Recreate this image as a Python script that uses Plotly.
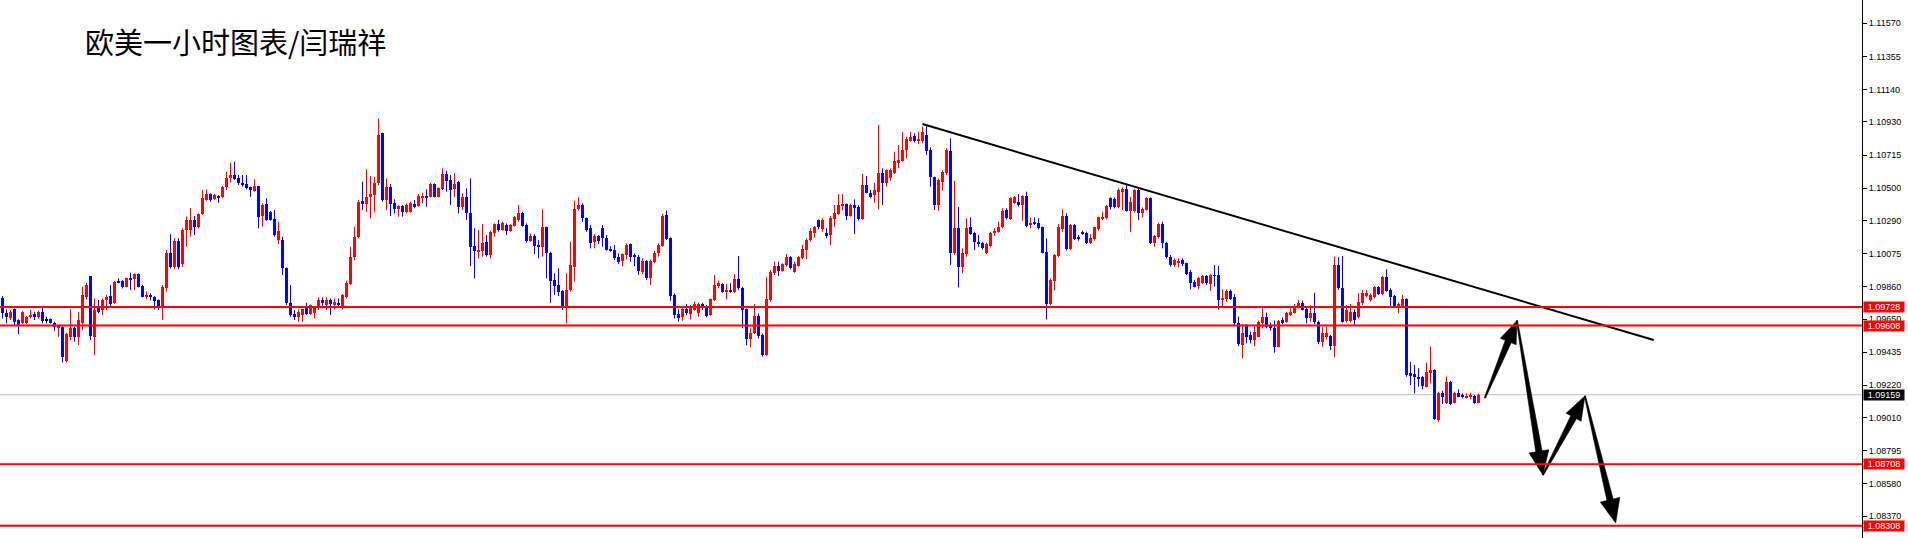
import math
import plotly.graph_objects as go

# ---------------- data ----------------
title_text = "欧美一小时图表/闫瑞祥"

open_ = [
 1.09784, 1.09691, 1.09654, 1.09713, 1.09644, 1.09622, 1.09622, 1.09661, 1.09680, 1.09661,
 1.09698, 1.09644, 1.09648, 1.09626, 1.09596, 1.09600, 1.09380, 1.09535, 1.09590, 1.09535,
 1.09622, 1.09795, 1.09929, 1.09535, 1.09719, 1.09709, 1.09773, 1.09799, 1.09752, 1.09899,
 1.09899, 1.09860, 1.09918, 1.09908, 1.09942, 1.09864, 1.09791, 1.09806, 1.09795, 1.09773,
 1.09730, 1.09849, 1.10076, 1.09990, 1.10159, 1.10007, 1.10228, 1.10228, 1.10293, 1.10250,
 1.10332, 1.10423, 1.10460, 1.10427, 1.10449, 1.10440, 1.10505, 1.10563, 1.10585, 1.10563,
 1.10535, 1.10527, 1.10505, 1.10483, 1.10514, 1.10319, 1.10395, 1.10347, 1.10297, 1.10163,
 1.10163, 1.09979, 1.09756, 1.09683, 1.09665,
 1.09676, 1.09719, 1.09683, 1.09691, 1.09730, 1.09773, 1.09741, 1.09773, 1.09741, 1.09756,
 1.09730, 1.09795, 1.09877, 1.10055, 1.10185, 1.10418, 1.10397, 1.10440, 1.10455, 1.10531,
 1.10856, 1.10423, 1.10510, 1.10401, 1.10362, 1.10384, 1.10347, 1.10347, 1.10397, 1.10384,
 1.10440, 1.10449, 1.10444, 1.10527, 1.10444, 1.10492, 1.10592, 1.10553, 1.10492, 1.10542,
 1.10379, 1.10440, 1.10336, 1.10124, 1.10087, 1.10094, 1.10152, 1.10066, 1.10211, 1.10267,
 1.10228, 1.10261, 1.10224, 1.10254, 1.10293, 1.10336, 1.10261, 1.10159, 1.10189, 1.10131,
 1.10115, 1.10250, 1.10076, 1.09903, 1.09871, 1.09834, 1.09730, 1.09838, 1.09990, 1.10362,
 1.10390, 1.10304, 1.10239, 1.10152,
 1.10189, 1.10239, 1.10174, 1.10102, 1.10098, 1.10051, 1.10029, 1.10066, 1.10137, 1.10059,
 1.10055, 1.09957, 1.10029, 1.09914, 1.10023, 1.10076, 1.10124, 1.10323, 1.10174, 1.09806,
 1.09683, 1.09661, 1.09713, 1.09683, 1.09709, 1.09691, 1.09748, 1.09730, 1.09676, 1.09773,
 1.09864, 1.09877, 1.09828, 1.09838, 1.09828, 1.09908, 1.09849, 1.09713, 1.09518, 1.09561,
 1.09670, 1.09546, 1.09416, 1.09773, 1.09951, 1.09994, 1.09964, 1.10001, 1.10055, 1.09957,
 1.09994, 1.10044, 1.10098, 1.10163, 1.10211, 1.10293, 1.10232, 1.10211, 1.10196, 1.10297,
 1.10332, 1.10384, 1.10397, 1.10319, 1.10390, 1.10375, 1.10297, 1.10520, 1.10470, 1.10455,
 1.10477, 1.10600, 1.10535,
 1.10563, 1.10596, 1.10665, 1.10678, 1.10747, 1.10808, 1.10838, 1.10808, 1.10808, 1.10845,
 1.10747, 1.10570, 1.10390, 1.10542, 1.10600, 1.10743, 1.10081, 1.10239, 1.09990, 1.10072,
 1.10245, 1.10211, 1.10152, 1.10141, 1.10081, 1.10124, 1.10206, 1.10217, 1.10245, 1.10358,
 1.10297, 1.10405, 1.10412, 1.10390, 1.10449, 1.10261, 1.10282, 1.10271, 1.10245, 1.10087,
 1.09748, 1.09899, 1.10059, 1.10232, 1.10319, 1.10102, 1.10261, 1.10180, 1.10217, 1.10211,
 1.10146, 1.10167, 1.10232, 1.10304, 1.10304, 1.10434, 1.10427, 1.10375, 1.10477, 1.10492,
 1.10354, 1.10354, 1.10488, 1.10336, 1.10358, 1.10434, 1.10146, 1.10180, 1.10267, 1.10146,
 1.10051, 1.10001, 1.10016, 1.10033,
 1.10012, 1.09958, 1.09893, 1.09865, 1.09886, 1.09930, 1.09878, 1.09936, 1.09936, 1.09774,
 1.09778, 1.09834, 1.09795, 1.09627, 1.09482, 1.09612, 1.09547, 1.09514, 1.09536, 1.09627,
 1.09661, 1.09605, 1.09590, 1.09471, 1.09644, 1.09633, 1.09676, 1.09692, 1.09726, 1.09752,
 1.09713, 1.09655, 1.09687, 1.09633, 1.09503, 1.09531, 1.09540, 1.09475, 1.10001, 1.09850,
 1.09640, 1.09640, 1.09698, 1.09666, 1.09752, 1.09806, 1.09774, 1.09795, 1.09856, 1.09813,
 1.09921, 1.09839, 1.09800, 1.09735, 1.09731, 1.09778, 1.09298, 1.09293, 1.09272, 1.09276,
 1.09211, 1.09298, 1.09319, 1.08995, 1.09168, 1.09107, 1.09244, 1.09107, 1.09172, 1.09157,
 1.09142, 1.09146, 1.09151, 1.09107,
]

high = [
 1.09799, 1.09713, 1.09709, 1.09719, 1.09648, 1.09702, 1.09670, 1.09709, 1.09698, 1.09704,
 1.09724, 1.09665, 1.09654, 1.09633, 1.09611, 1.09605, 1.09561, 1.09713, 1.09600, 1.09698,
 1.09860, 1.09886, 1.09929, 1.09784, 1.09773, 1.09784, 1.09806, 1.09871, 1.09897, 1.09914,
 1.09903, 1.09918, 1.09951, 1.09947, 1.09947, 1.09871, 1.09828, 1.09817, 1.09799, 1.09778,
 1.09871, 1.10098, 1.10202, 1.10174, 1.10174, 1.10239, 1.10315, 1.10369, 1.10319, 1.10336,
 1.10488, 1.10492, 1.10466, 1.10462, 1.10455, 1.10514, 1.10607, 1.10665, 1.10672, 1.10585,
 1.10585, 1.10585, 1.10510, 1.10557, 1.10514, 1.10401, 1.10434, 1.10351, 1.10358, 1.10282,
 1.10185, 1.09986, 1.09871, 1.09709, 1.09713,
 1.09713, 1.09756, 1.09745, 1.09735, 1.09791, 1.09791, 1.09791, 1.09784, 1.09784, 1.09784,
 1.09812, 1.09899, 1.10120, 1.10250, 1.10423, 1.10542, 1.10622, 1.10579, 1.10574, 1.10953,
 1.10860, 1.10563, 1.10527, 1.10427, 1.10390, 1.10390, 1.10401, 1.10412, 1.10423, 1.10462,
 1.10470, 1.10492, 1.10535, 1.10531, 1.10505, 1.10628, 1.10613, 1.10585, 1.10596, 1.10548,
 1.10466, 1.10498, 1.10563, 1.10239, 1.10228, 1.10267, 1.10196, 1.10224, 1.10271, 1.10293,
 1.10282, 1.10271, 1.10267, 1.10319, 1.10390, 1.10347, 1.10271, 1.10206, 1.10202, 1.10163,
 1.10362, 1.10250, 1.10087, 1.09947, 1.09979, 1.09838, 1.09947, 1.10152, 1.10418, 1.10440,
 1.10401, 1.10310, 1.10261, 1.10202,
 1.10196, 1.10261, 1.10196, 1.10124, 1.10131, 1.10076, 1.10076, 1.10141, 1.10141, 1.10076,
 1.10066, 1.10044, 1.10033, 1.10038, 1.10094, 1.10141, 1.10332, 1.10354, 1.10180, 1.09817,
 1.09713, 1.09719, 1.09748, 1.09741, 1.09763, 1.09756, 1.09756, 1.09741, 1.09784, 1.09936,
 1.09899, 1.09882, 1.09877, 1.09882, 1.09942, 1.10059, 1.09860, 1.09719, 1.09590, 1.09748,
 1.09687, 1.09557, 1.09921, 1.09968, 1.10023, 1.10023, 1.10012, 1.10072, 1.10059, 1.10023,
 1.10059, 1.10131, 1.10174, 1.10239, 1.10254, 1.10297, 1.10304, 1.10239, 1.10319, 1.10390,
 1.10462, 1.10462, 1.10401, 1.10397, 1.10427, 1.10390, 1.10592, 1.10579, 1.10488, 1.10535,
 1.10910, 1.10628, 1.10622,
 1.10628, 1.10736, 1.10780, 1.10866, 1.10834, 1.10866, 1.10856, 1.10866, 1.10899, 1.10910,
 1.10765, 1.10574, 1.10563, 1.10617, 1.10758, 1.10823, 1.10548, 1.10379, 1.10109, 1.10304,
 1.10310, 1.10217, 1.10196, 1.10152, 1.10146, 1.10217, 1.10239, 1.10282, 1.10369, 1.10369,
 1.10440, 1.10449, 1.10462, 1.10455, 1.10477, 1.10310, 1.10310, 1.10304, 1.10250, 1.10174,
 1.09914, 1.10072, 1.10267, 1.10362, 1.10336, 1.10267, 1.10267, 1.10196, 1.10224, 1.10217,
 1.10202, 1.10250, 1.10315, 1.10347, 1.10390, 1.10440, 1.10440, 1.10498, 1.10505, 1.10520,
 1.10444, 1.10492, 1.10505, 1.10375, 1.10440, 1.10440, 1.10196, 1.10276, 1.10282, 1.10152,
 1.10066, 1.10044, 1.10044, 1.10044,
 1.10016, 1.09969, 1.09904, 1.09925, 1.09936, 1.09936, 1.09943, 1.10001, 1.09995, 1.09843,
 1.09843, 1.09843, 1.09813, 1.09666, 1.09618, 1.09618, 1.09568, 1.09601, 1.09640, 1.09720,
 1.09692, 1.09627, 1.09640, 1.09644, 1.09661, 1.09698, 1.09720, 1.09748, 1.09774, 1.09770,
 1.09726, 1.09741, 1.09821, 1.09640, 1.09596, 1.09601, 1.09547, 1.10055, 1.10051, 1.10059,
 1.09741, 1.09748, 1.09713, 1.09817, 1.09839, 1.09839, 1.09817, 1.09865, 1.09865, 1.09930,
 1.09973, 1.09850, 1.09806, 1.09757, 1.09806, 1.09785, 1.09373, 1.09352, 1.09330, 1.09280,
 1.09367, 1.09471, 1.09324, 1.09179, 1.09185, 1.09276, 1.09250, 1.09179, 1.09194, 1.09168,
 1.09168, 1.09172, 1.09157, 1.09166,
]

low = [
 1.09654, 1.09622, 1.09644, 1.09611, 1.09553, 1.09618, 1.09618, 1.09654, 1.09644, 1.09654,
 1.09622, 1.09622, 1.09622, 1.09574, 1.09535, 1.09369, 1.09369, 1.09514, 1.09503, 1.09481,
 1.09579, 1.09778, 1.09514, 1.09416, 1.09687, 1.09676, 1.09709, 1.09730, 1.09748, 1.09882,
 1.09849, 1.09856, 1.09838, 1.09838, 1.09856, 1.09791, 1.09778, 1.09773, 1.09713, 1.09709,
 1.09644, 1.09828, 1.09979, 1.09973, 1.09973, 1.09990, 1.10120, 1.10185, 1.10196, 1.10239,
 1.10325, 1.10418, 1.10412, 1.10423, 1.10405, 1.10434, 1.10488, 1.10535, 1.10553, 1.10520,
 1.10510, 1.10492, 1.10444, 1.10477, 1.10239, 1.10250, 1.10289, 1.10289, 1.10185, 1.10137,
 1.09936, 1.09741, 1.09665, 1.09644, 1.09633,
 1.09633, 1.09676, 1.09678, 1.09654, 1.09709, 1.09719, 1.09709, 1.09676, 1.09713, 1.09730,
 1.09713, 1.09784, 1.09871, 1.10033, 1.10174, 1.10358, 1.10347, 1.10304, 1.10347, 1.10520,
 1.10412, 1.10358, 1.10319, 1.10336, 1.10315, 1.10315, 1.10336, 1.10341, 1.10369, 1.10379,
 1.10401, 1.10379, 1.10440, 1.10440, 1.10440, 1.10488, 1.10477, 1.10390, 1.10444, 1.10336,
 1.10358, 1.10293, 1.09994, 1.09914, 1.10044, 1.10055, 1.10055, 1.10044, 1.10185, 1.10217,
 1.10224, 1.10196, 1.10217, 1.10250, 1.10282, 1.10250, 1.10146, 1.10152, 1.10072, 1.10044,
 1.10055, 1.09914, 1.09756, 1.09806, 1.09799, 1.09709, 1.09622, 1.09828, 1.09893, 1.10354,
 1.10282, 1.10217, 1.10109, 1.10109,
 1.10137, 1.10120, 1.10094, 1.10087, 1.10033, 1.10007, 1.09994, 1.10038, 1.10023, 1.09994,
 1.09936, 1.09942, 1.09903, 1.09871, 1.10012, 1.10055, 1.10120, 1.10163, 1.09769, 1.09654,
 1.09633, 1.09639, 1.09676, 1.09648, 1.09704, 1.09665, 1.09709, 1.09661, 1.09670, 1.09769,
 1.09849, 1.09821, 1.09778, 1.09821, 1.09821, 1.09838, 1.09590, 1.09481, 1.09466, 1.09553,
 1.09525, 1.09406, 1.09410, 1.09763, 1.09936, 1.09929, 1.09957, 1.09990, 1.09973, 1.09951,
 1.09990, 1.10038, 1.10038, 1.10152, 1.10180, 1.10232, 1.10217, 1.10174, 1.10131, 1.10250,
 1.10325, 1.10358, 1.10293, 1.10315, 1.10202, 1.10289, 1.10293, 1.10466, 1.10434, 1.10405,
 1.10362, 1.10390, 1.10510,
 1.10548, 1.10592, 1.10628, 1.10672, 1.10693, 1.10801, 1.10795, 1.10786, 1.10791, 1.10715,
 1.10510, 1.10358, 1.10354, 1.10483, 1.10585, 1.10001, 1.10066, 1.09856, 1.09947, 1.10055,
 1.10196, 1.10098, 1.10120, 1.10102, 1.10072, 1.10115, 1.10189, 1.10211, 1.10239, 1.10297,
 1.10293, 1.10397, 1.10379, 1.10289, 1.10245, 1.10239, 1.10261, 1.10232, 1.10076, 1.09648,
 1.09741, 1.09838, 1.10051, 1.10217, 1.10094, 1.10098, 1.10163, 1.10159, 1.10196, 1.10137,
 1.10137, 1.10159, 1.10224, 1.10293, 1.10297, 1.10362, 1.10369, 1.10369, 1.10358, 1.10347,
 1.10217, 1.10341, 1.10293, 1.10310, 1.10354, 1.10137, 1.10120, 1.10174, 1.10109, 1.10044,
 1.09990, 1.09990, 1.09986, 1.09994,
 1.09936, 1.09843, 1.09856, 1.09843, 1.09878, 1.09871, 1.09834, 1.09860, 1.09713, 1.09735,
 1.09763, 1.09774, 1.09605, 1.09475, 1.09395, 1.09492, 1.09492, 1.09475, 1.09531, 1.09590,
 1.09590, 1.09575, 1.09432, 1.09467, 1.09618, 1.09627, 1.09670, 1.09687, 1.09720, 1.09705,
 1.09622, 1.09633, 1.09618, 1.09488, 1.09471, 1.09518, 1.09449, 1.09402, 1.09839, 1.09627,
 1.09627, 1.09627, 1.09605, 1.09655, 1.09741, 1.09791, 1.09763, 1.09785, 1.09806, 1.09806,
 1.09828, 1.09735, 1.09731, 1.09687, 1.09726, 1.09276, 1.09222, 1.09168, 1.09211, 1.09194,
 1.09207, 1.09233, 1.08995, 1.08984, 1.09099, 1.09099, 1.09092, 1.09103, 1.09142, 1.09135,
 1.09135, 1.09129, 1.09099, 1.09103,
]

close = [
 1.09687, 1.09661, 1.09698, 1.09633, 1.09611, 1.09698, 1.09665, 1.09676, 1.09665, 1.09698,
 1.09639, 1.09644, 1.09626, 1.09596, 1.09605, 1.09406, 1.09553, 1.09590, 1.09535, 1.09644,
 1.09806, 1.09871, 1.09540, 1.09709, 1.09698, 1.09773, 1.09795, 1.09748, 1.09893, 1.09886,
 1.09856, 1.09914, 1.09908, 1.09942, 1.09860, 1.09795, 1.09806, 1.09791, 1.09769, 1.09735,
 1.09860, 1.10081, 1.09990, 1.10159, 1.09986, 1.10228, 1.10293, 1.10293, 1.10250, 1.10332,
 1.10434, 1.10462, 1.10423, 1.10455, 1.10440, 1.10510, 1.10563, 1.10585, 1.10557, 1.10531,
 1.10520, 1.10498, 1.10488, 1.10514, 1.10315, 1.10390, 1.10293, 1.10293, 1.10196, 1.10224,
 1.09979, 1.09752, 1.09676, 1.09665, 1.09698,
 1.09713, 1.09683, 1.09741, 1.09730, 1.09773, 1.09752, 1.09773, 1.09748, 1.09763, 1.09741,
 1.09806, 1.09882, 1.10055, 1.10185, 1.10412, 1.10397, 1.10440, 1.10462, 1.10531, 1.10845,
 1.10423, 1.10505, 1.10397, 1.10362, 1.10384, 1.10347, 1.10390, 1.10405, 1.10379, 1.10449,
 1.10449, 1.10440, 1.10527, 1.10444, 1.10498, 1.10592, 1.10548, 1.10488, 1.10527, 1.10375,
 1.10440, 1.10336, 1.10120, 1.10094, 1.10098, 1.10146, 1.10066, 1.10217, 1.10267, 1.10228,
 1.10276, 1.10224, 1.10261, 1.10315, 1.10336, 1.10254, 1.10159, 1.10189, 1.10124, 1.10115,
 1.10250, 1.10076, 1.09899, 1.09864, 1.09828, 1.09730, 1.09838, 1.10001, 1.10362, 1.10390,
 1.10304, 1.10228, 1.10146, 1.10189,
 1.10159, 1.10174, 1.10098, 1.10094, 1.10044, 1.10023, 1.10072, 1.10131, 1.10055, 1.10055,
 1.09964, 1.10029, 1.09914, 1.10029, 1.10081, 1.10131, 1.10319, 1.10167, 1.09799, 1.09676,
 1.09654, 1.09713, 1.09687, 1.09730, 1.09748, 1.09748, 1.09726, 1.09670, 1.09778, 1.09871,
 1.09882, 1.09828, 1.09838, 1.09828, 1.09908, 1.09849, 1.09709, 1.09518, 1.09561, 1.09670,
 1.09540, 1.09416, 1.09778, 1.09957, 1.09994, 1.09964, 1.10007, 1.10055, 1.09979, 1.10007,
 1.10055, 1.10102, 1.10163, 1.10224, 1.10250, 1.10245, 1.10293, 1.10189, 1.10304, 1.10341,
 1.10390, 1.10397, 1.10319, 1.10390, 1.10369, 1.10297, 1.10520, 1.10470, 1.10440, 1.10488,
 1.10600, 1.10535, 1.10617,
 1.10617, 1.10678, 1.10682, 1.10747, 1.10817, 1.10834, 1.10808, 1.10817, 1.10866, 1.10743,
 1.10570, 1.10390, 1.10553, 1.10607, 1.10747, 1.10081, 1.10239, 1.09990, 1.10076, 1.10239,
 1.10202, 1.10152, 1.10137, 1.10109, 1.10137, 1.10211, 1.10224, 1.10250, 1.10354, 1.10304,
 1.10434, 1.10440, 1.10390, 1.10449, 1.10254, 1.10276, 1.10271, 1.10239, 1.10081, 1.09748,
 1.09903, 1.10066, 1.10245, 1.10319, 1.10102, 1.10261, 1.10167, 1.10172, 1.10202, 1.10146,
 1.10174, 1.10245, 1.10310, 1.10310, 1.10384, 1.10375, 1.10379, 1.10488, 1.10492, 1.10354,
 1.10412, 1.10488, 1.10341, 1.10362, 1.10434, 1.10146, 1.10189, 1.10267, 1.10146, 1.10051,
 1.10001, 1.10033, 1.10029, 1.10007,
 1.09943, 1.09886, 1.09860, 1.09914, 1.09930, 1.09882, 1.09936, 1.09930, 1.09774, 1.09785,
 1.09834, 1.09778, 1.09622, 1.09488, 1.09562, 1.09536, 1.09514, 1.09568, 1.09633, 1.09661,
 1.09601, 1.09590, 1.09471, 1.09640, 1.09627, 1.09687, 1.09698, 1.09735, 1.09757, 1.09709,
 1.09655, 1.09687, 1.09633, 1.09503, 1.09557, 1.09562, 1.09475, 1.10001, 1.09850, 1.09633,
 1.09709, 1.09698, 1.09644, 1.09763, 1.09817, 1.09817, 1.09806, 1.09856, 1.09813, 1.09921,
 1.09834, 1.09795, 1.09735, 1.09748, 1.09778, 1.09287, 1.09287, 1.09272, 1.09265, 1.09215,
 1.09309, 1.09319, 1.08999, 1.09168, 1.09146, 1.09244, 1.09099, 1.09172, 1.09146, 1.09142,
 1.09151, 1.09151, 1.09103, 1.09159,
]

tick_vals = [1.11570, 1.11355, 1.11140, 1.10930, 1.10715, 1.10500, 1.10290, 1.10075,
             1.09860, 1.09650, 1.09435, 1.09220, 1.09010, 1.08795, 1.08580, 1.08370]
level_prices = [1.09728, 1.09608, 1.08708, 1.08308]
last_price = 1.09159

trend_idx = [230.0, 412.8]
trend_price = [1.10916, 1.09514]

arrow_idx = [370.6, 378.6, 385.1, 395.6, 403.3]
arrow_price = [1.09138, 1.09640, 1.08638, 1.09151, 1.08326]

# ---------------- layout constants ----------------
W, H = 1908, 538
PLOT_R = 1862          # pixel x of the price axis
X0_PX, STEP_PX = 2.5, 4.0
x_range = [-X0_PX / STEP_PX, (PLOT_R - X0_PX) / STEP_PX]
y_range = [1.082291, 1.117212]

RED = "#ff0000"
BLUE = "#0000ff"

n = len(close)
idx = list(range(n))

def col(i):
    if close[i] > open_[i]:
        return RED
    if close[i] < open_[i]:
        return BLUE
    return "#000000"

colors = [col(i) for i in idx]
min_body = 0.00006
bases = [min(open_[i], close[i]) for i in idx]
heights = [max(abs(close[i] - open_[i]), min_body) for i in idx]

fig = go.Figure()

# wicks
for c in (RED, BLUE, "#000000"):
    xs, ys = [], []
    for i in idx:
        if colors[i] == c:
            xs += [i, i, None]
            ys += [low[i], high[i], None]
    if xs:
        fig.add_trace(go.Scatter(x=xs, y=ys, mode="lines",
                                 line=dict(color=c, width=1),
                                 hoverinfo="skip", showlegend=False))

# bodies
fig.add_trace(go.Bar(x=idx, y=heights, base=bases, width=0.75,
                     marker=dict(color=colors, line=dict(width=0)),
                     hoverinfo="skip", showlegend=False))

# trend line
fig.add_trace(go.Scatter(x=trend_idx, y=trend_price, mode="lines",
                         line=dict(color="black", width=2),
                         hoverinfo="skip", showlegend=False))

# projected path arrows (wedge shaped), built in pixel space
def to_px(xv, yv):
    px = (xv - x_range[0]) / (x_range[1] - x_range[0]) * PLOT_R
    py = (y_range[1] - yv) / (y_range[1] - y_range[0]) * H
    return px, py

def to_data(px, py):
    xv = x_range[0] + px / PLOT_R * (x_range[1] - x_range[0])
    yv = y_range[1] - py / H * (y_range[1] - y_range[0])
    return xv, yv

ax_all, ay_all = [], []
for k in range(len(arrow_idx) - 1):
    p0 = to_px(arrow_idx[k], arrow_price[k])
    p1 = to_px(arrow_idx[k + 1], arrow_price[k + 1])
    dx, dy = p1[0] - p0[0], p1[1] - p0[1]
    L = math.hypot(dx, dy)
    ux, uy = dx / L, dy / L
    nx, ny = -uy, ux
    hl = min(24.0, 0.27 * L)
    hw = 10.0 if L > 110 else 8.5
    w0, w1 = 0.6, 3.2
    bx, by = p1[0] - ux * hl, p1[1] - uy * hl
    pts = [
        (p0[0] + nx * w0, p0[1] + ny * w0),
        (bx + nx * w1, by + ny * w1),
        (bx + nx * hw, by + ny * hw),
        (p1[0], p1[1]),
        (bx - nx * hw, by - ny * hw),
        (bx - nx * w1, by - ny * w1),
        (p0[0] - nx * w0, p0[1] - ny * w0),
        (p0[0] + nx * w0, p0[1] + ny * w0),
    ]
    for (px, py) in pts:
        xv, yv = to_data(px, py)
        ax_all.append(xv)
        ay_all.append(yv)
    ax_all.append(None)
    ay_all.append(None)

fig.add_trace(go.Scatter(x=ax_all, y=ay_all, mode="lines", fill="toself",
                         fillcolor="black", line=dict(color="black", width=0.6),
                         hoverinfo="skip", showlegend=False))

shapes = []
annotations = []
for lp in level_prices:
    shapes.append(dict(type="line", xref="paper", x0=0, x1=1, yref="y",
                       y0=lp, y1=lp, line=dict(color=RED, width=2), layer="above"))
    annotations.append(dict(xref="paper", x=1, xanchor="left", xshift=1,
                            yref="y", y=lp, yanchor="middle",
                            text=f"{lp:.5f}", showarrow=False,
                            bgcolor=RED, width=40, height=10, borderpad=0,
                            font=dict(family="Liberation Sans", size=9, color="white")))
shapes.append(dict(type="line", xref="paper", x0=0, x1=1, yref="y",
                   y0=last_price, y1=last_price,
                   line=dict(color="#c0c0c0", width=1), layer="below"))
annotations.append(dict(xref="paper", x=1, xanchor="left", xshift=1,
                        yref="y", y=last_price, yanchor="middle",
                        text=f"{last_price:.5f}", showarrow=False,
                        bgcolor="black", width=40, height=10, borderpad=0,
                        font=dict(family="Liberation Sans", size=9, color="white")))
annotations.append(dict(xref="paper", x=83 / PLOT_R, xanchor="left",
                        yref="paper", y=1 - 41 / H, yanchor="middle",
                        text=title_text, showarrow=False,
                        font=dict(family="Noto Sans CJK SC", size=29, color="black")))

fig.update_layout(
    width=W, height=H,
    margin=dict(l=0, r=W - PLOT_R, t=0, b=0),
    paper_bgcolor="white", plot_bgcolor="white",
    showlegend=False, barmode="overlay", bargap=0,
    shapes=shapes, annotations=annotations,
    xaxis=dict(range=x_range, visible=False, fixedrange=True),
    yaxis=dict(range=y_range, side="right", showgrid=False, zeroline=False,
               showline=True, linecolor="black", linewidth=1,
               ticks="outside", ticklen=4, tickcolor="black", tickwidth=1,
               tickvals=tick_vals, ticktext=[f"{v:.5f}" for v in tick_vals],
               tickfont=dict(family="Liberation Sans", size=9, color="black"),
               automargin=False, fixedrange=True),
)

fig.write_html("out.html",
               config={"displayModeBar": False},
               post_script="document.body.style.margin='0';document.body.style.overflow='hidden';")
